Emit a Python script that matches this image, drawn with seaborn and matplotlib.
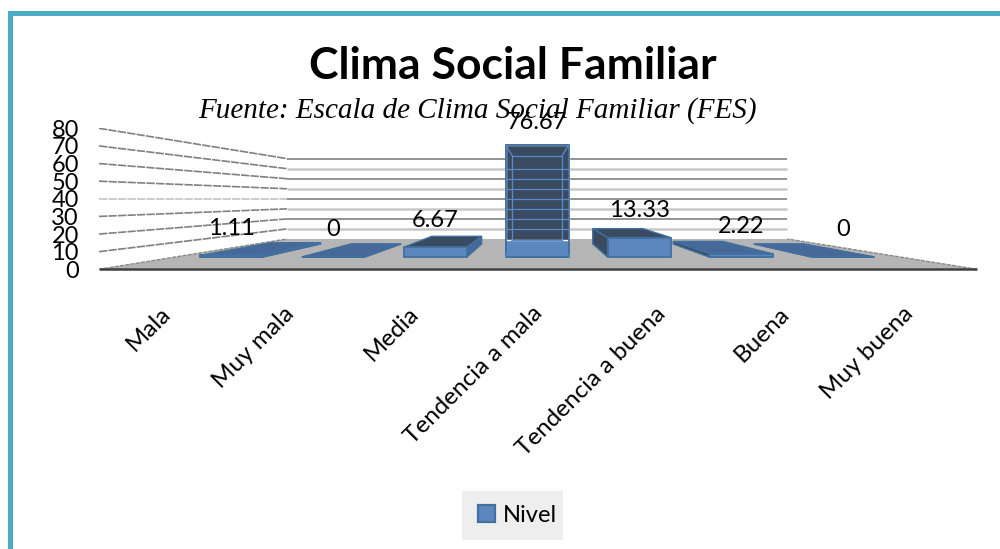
import matplotlib
matplotlib.use("Agg")
import matplotlib.pyplot as plt
import pandas as pd
import seaborn as sns
from matplotlib.patches import Patch, Polygon, Rectangle

categories = ["Mala", "Muy mala", "Media", "Tendencia a mala", "Tendencia a buena", "Buena", "Muy buena"]
values = [1.11, 0, 6.67, 76.67, 13.33, 2.22, 0]
value_labels = ["1.11", "0", "6.67", "76.67", "13.33", "2.22", "0"]
y_ticks = [0, 10, 20, 30, 40, 50, 60, 70, 80]
series_name = "Nivel"

FW, FH = 1000, 549
FRONT, FRONT_EDGE, DARK, FLAT, LINE = "#5b87bf", "#41709f", "#3a4a60", "#46699a", "#5a8ac8"
FLOOR = "#b5b5b5"
UI = "Lato"

sns.set_theme(style="white")
fig = plt.figure(figsize=(FW / 100, FH / 100), dpi=100, facecolor="white")

rect = [99 / FW, (FH - 269.3) / FH, 878 / FW, 141 / FH]
wall = fig.add_axes(rect, zorder=1)
ax = fig.add_axes(rect, zorder=2)
ax.patch.set_visible(False)

# ---- wall axes: y ticks, category labels, floor and perspective grid
LABEL0, LABEL_STEP = 160.0, 123.8
wall.set_xlim((99 - LABEL0) / LABEL_STEP, (977 - LABEL0) / LABEL_STEP)
wall.set_ylim(0, 80)
x_left, x_right = wall.get_xlim()
WK, WVX, WVY = 0.57, (536 - LABEL0) / LABEL_STEP, 40.0


def wall_back(x, y):
    return WVX + WK * (x - WVX), WVY + WK * (y - WVY)


bx_left, by0 = wall_back(x_left, 0)
bx_right, _ = wall_back(x_right, 0)
wall.add_patch(Polygon([(x_left, 0), (x_right, 0), (bx_right, by0), (bx_left, by0)],
                       closed=True, fc=FLOOR, ec="none", zorder=1))
for t in y_ticks[1:]:
    xb, yb = wall_back(x_left, t)
    dark_line = t % 20 == 0
    wall.plot([xb, bx_right], [yb, yb], color="#808080" if dark_line else "#c8c8c8",
              lw=1.2 if dark_line else 1.8, solid_capstyle="butt", zorder=1)
    wall.plot([x_left, xb], [t, yb], color="#808080" if t != 40 else "#c4c4c4", lw=1.2,
              ls=(0, (5, 0.7)), zorder=1)
for xs in (x_left, x_right):
    xb, yb = wall_back(xs, 0)
    wall.plot([xs, xb], [0, yb], color="#8a8a8a", lw=1.0, ls=(0, (3, 0.8)), zorder=2)
wall.plot([x_left, x_right], [0, 0], color="#404040", lw=1.8, clip_on=False,
          solid_capstyle="butt", zorder=3)

wall.set_yticks(y_ticks)
wall.set_yticklabels([str(t) for t in y_ticks], fontsize=17, family=UI, color="black")
wall.set_xticks(range(len(categories)))
wall.set_xticklabels(categories, rotation=45, ha="right", rotation_mode="anchor",
                     fontsize=17.5, family=UI, color="black")
wall.tick_params(axis="y", length=0, pad=14.5)
wall.tick_params(axis="x", length=0, pad=24)
for s in wall.spines.values():
    s.set_visible(False)
wall.patch.set_visible(False)

# ---- bar axes: front plane of the bars
df = pd.DataFrame({"categoria": categories, "valor": values})
sns.barplot(data=df, x="categoria", y="valor", order=categories, color=FRONT, saturation=1,
            width=0.62, edgecolor=FRONT_EDGE, linewidth=1.3, ax=ax, zorder=4)
CENTER0, STEP, UNIT, BASE = 231.5, 101.9, 1.46, 257.0
ax.set_xlim((99 - CENTER0) / STEP, (977 - CENTER0) / STEP)
ax.set_ylim(-(269.3 - BASE) / UNIT, (BASE - 128.3) / UNIT)
ax.set_xticks([]); ax.set_yticks([])
ax.set_xlabel(""); ax.set_ylabel("")
for s in ax.spines.values():
    s.set_visible(False)

BK, BVX, BVY = 0.79, 3.0, (BASE - 195) / UNIT
HALF = 0.31
BACK_FLOOR_UNITS = (BASE - 240) / UNIT


def bar_back(x, y):
    return BVX + BK * (x - BVX), BVY + BK * (y - BVY)


for i, v in enumerate(values):
    l, r = i - HALF, i + HALF
    fl, fr = (l, v), (r, v)
    bl, br = bar_back(l, v), bar_back(r, v)
    bl0, br0 = bar_back(l, 0), bar_back(r, 0)
    flat = v < 3
    if flat:
        ax.add_patch(Polygon([(l, 0), (r, 0), br0, bl0], closed=True, fc=FLAT, ec=FLAT, lw=0.8, zorder=2.5))
    ax.add_patch(Polygon([fl, fr, br, bl], closed=True, fc=FLAT if flat else DARK,
                         ec=FRONT_EDGE, lw=1.0, zorder=3))
    if i < BVX and v > 0:
        ax.add_patch(Polygon([(r, 0), fr, br, br0], closed=True, fc=FLAT, ec=FRONT_EDGE, lw=1.0, zorder=3))
    elif i > BVX and v > 0:
        ax.add_patch(Polygon([(l, 0), fl, bl, bl0], closed=True, fc=DARK, ec=FRONT_EDGE, lw=1.0, zorder=3))
    if v > 20:
        ax.bar(i, v - BACK_FLOOR_UNITS, bottom=BACK_FLOOR_UNITS, width=2 * HALF, color=DARK, zorder=5)
        ax.bar(i, v, width=2 * HALF, fill=False, edgecolor=FRONT_EDGE, linewidth=1.3, zorder=6)
        for t in y_ticks[1:8]:
            _, yb = wall_back(x_left, t)
            py = 269.3 - yb * 141 / 80
            yu = (BASE - py) / UNIT
            ax.plot([l, r], [yu, yu], color=LINE, lw=0.9, zorder=6, solid_capstyle="butt")
        ax.plot([bl[0], br[0], br[0], bl[0], bl[0]],
                [bl[1], br[1], BACK_FLOOR_UNITS, BACK_FLOOR_UNITS, bl[1]], color=LINE, lw=0.9, zorder=6)
        for xa, xb_ in ((l, bl[0]), (r, br[0])):
            ax.plot([xa, xb_], [v, bl[1]], color=LINE, lw=0.9, zorder=6)
            ax.plot([xa, xb_], [0, BACK_FLOOR_UNITS], color=LINE, lw=0.9, zorder=6)
    # the tallest label sits a little closer to its bar, as in the source chart
    ax.annotate(value_labels[i], (i, v), xytext=(0, 16.5 if v > 20 else 19.5), textcoords="offset points",
                ha="center", va="center", fontsize=17, family=UI, color="black",
                annotation_clip=False, zorder=8)

# ---- titles
fig.text(513 / FW, 1 - 66 / FH, "Clima Social Familiar", ha="center", va="center",
         fontsize=32, fontweight="bold", family=UI, color="black")
fig.text(477.5 / FW, 1 - 111 / FH, "Fuente: Escala de Clima Social Familiar (FES)", ha="center", va="center",
         fontsize=21, style="italic", family="Liberation Serif", color="black", zorder=9)

# ---- legend: grey plate behind a frameless legend
fig.patches.append(Rectangle((462 / FW, 1 - 540 / FH), 101 / FW, 49 / FH, transform=fig.transFigure,
                             fc="#eeeeee", ec="none"))
leg = fig.legend(handles=[Patch(facecolor=FRONT, edgecolor=FRONT_EDGE, linewidth=1.6, label=series_name)],
                 loc="center", bbox_to_anchor=(517.5 / FW, 1 - 515 / FH), frameon=False, labelcolor="black",
                 prop={"family": UI, "size": 17}, handlelength=0.72, handleheight=0.72,
                 handletextpad=0.35, borderpad=0, borderaxespad=0)

# ---- page frame
fig.patches.append(Rectangle((8 / FW, 1 - 16 / FH), 992 / FW, 5 / FH, transform=fig.transFigure,
                             fc="#4bacc6", ec="none"))
fig.patches.append(Rectangle((8 / FW, 0), 5 / FW, 1 - 11 / FH, transform=fig.transFigure,
                             fc="#4bacc6", ec="none"))

fig.savefig("out.png", dpi=100)
